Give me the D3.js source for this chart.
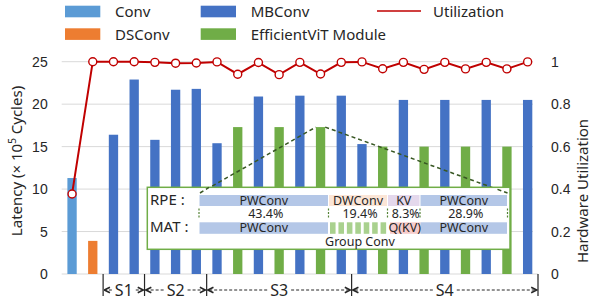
<!DOCTYPE html>
<html>
<head>
<meta charset="utf-8">
<script src="https://cdn.jsdelivr.net/npm/d3@7"></script>
<style>
  body { margin: 0; background: #fff; }
  svg { font-family: "Noto Sans", "Open Sans", sans-serif; }
  text { fill: #262626; }
</style>
</head>
<body>
<div id="chart"></div>
<script>
// block types, in network order
const categories = ['Conv', 'DSConv', 'MBConv', 'EfficientViT Module'];
const blocks = ['Conv', 'DSConv', 'MBConv', 'MBConv', 'MBConv', 'MBConv', 'MBConv', 'MBConv',
  'EfficientViT Module', 'MBConv', 'EfficientViT Module', 'MBConv', 'EfficientViT Module', 'MBConv',
  'MBConv', 'EfficientViT Module', 'MBConv', 'EfficientViT Module', 'MBConv', 'EfficientViT Module',
  'MBConv', 'EfficientViT Module', 'MBConv'];
// latency in 1e5 cycles
const latency = [11.3, 3.9, 16.4, 22.9, 15.8, 21.7, 21.8, 15.4, 17.3, 20.9, 17.3, 21.0, 17.3, 21.0,
  15.3, 15.0, 20.5, 15.0, 20.5, 15.0, 20.5, 15.0, 20.5];
const utilization = [0.377, 1.0, 1.0, 1.0, 0.997, 0.993, 0.994, 0.999, 0.941, 0.996, 0.939, 0.997,
  0.942, 0.997, 0.999, 0.967, 0.997, 0.964, 0.997, 0.966, 0.997, 0.966, 0.999];
const leftTicks = [0, 5, 10, 15, 20, 25];
const rightTicks = [0, 0.2, 0.4, 0.6, 0.8, 1];
// stages as block index ranges [start, end)
const stages = [
  {name: 'S1', start: 2, end: 4},
  {name: 'S2', start: 4, end: 7},
  {name: 'S3', start: 7, end: 14},
  {name: 'S4', start: 14, end: 23}
];
const zoomBlock = 12; // the EfficientViT module that is broken down in the inset
// inset breakdown (share of latency, %)
const shareBreaks = [0, 43.4, 62.8, 71.1, 100];
const rpeParts = ['PWConv', 'DWConv', 'KV', 'PWConv'];
const matParts = ['PWConv', 'Group Conv', 'Q(KV)', 'PWConv'];
const shareLabels = ['43.4%', '19.4%', '8.3%', '28.9%'];
const groupConvSlices = 7;

const colors = {
  'Conv': '#5B9BD5', 'DSConv': '#ED7D31', 'MBConv': '#4472C4', 'EfficientViT Module': '#70AD47'
};
const partColors = {'PWConv': '#B4C7E7', 'DWConv': '#FBE5D6', 'KV': '#E4D8EC', 'Q(KV)': '#F6CBCB', 'Group Conv': '#A9D18E'};
const lineColor = '#C00000';

const width = 592, height = 300;
const plot = {left: 61.7, right: 538, top: 61.7, bottom: 274};

const svg = d3.select('#chart').append('svg')
  .attr('width', width).attr('height', height);

const x = d3.scaleBand()
  .domain(d3.range(blocks.length))
  .range([plot.left, plot.right])
  .paddingInner(0.55)
  .paddingOuter(0.275);
const y = d3.scaleLinear().domain([0, 25]).range([plot.bottom, plot.top]);
const yR = d3.scaleLinear().domain([0, 1]).range([plot.bottom, plot.top]);

// gridlines
svg.append('g').selectAll('line')
  .data(leftTicks.filter(d => d > 0))
  .enter().append('line')
  .attr('x1', plot.left).attr('x2', 533)
  .attr('y1', d => y(d)).attr('y2', d => y(d))
  .attr('stroke', '#D9D9D9').attr('stroke-width', 1);
svg.append('line')
  .attr('x1', plot.left).attr('x2', plot.right)
  .attr('y1', y(0)).attr('y2', y(0))
  .attr('stroke', '#D9D9D9').attr('stroke-width', 1);

// left axis
const leftAxis = svg.append('g')
  .attr('transform', `translate(${plot.left - 14},0)`)
  .call(d3.axisLeft(y).tickValues(leftTicks).tickSize(0).tickPadding(0));
leftAxis.select('.domain').remove();
leftAxis.selectAll('text').style('font-size', '14px').attr('fill', '#262626').style('font-family', 'inherit');

const rightAxis = svg.append('g')
  .attr('transform', `translate(551,0)`)
  .call(d3.axisRight(yR).tickValues(rightTicks).tickSize(0).tickPadding(0).tickFormat(d3.format('~g')));
rightAxis.select('.domain').remove();
rightAxis.selectAll('text').style('font-size', '14px').attr('fill', '#262626').style('font-family', 'inherit');

// axis titles
const lt = svg.append('text')
  .attr('transform', 'translate(22,161) rotate(-90)')
  .attr('text-anchor', 'middle')
  .style('font-size', '15px');
lt.append('tspan').text('Latency (× 10');
lt.append('tspan').text('5').attr('dy', -6).style('font-size', '10px');
lt.append('tspan').text(' Cycles)').attr('dy', 6);

svg.append('text')
  .attr('transform', 'translate(588,191) rotate(-90)')
  .attr('text-anchor', 'middle')
  .style('font-size', '15px')
  .text('Hardware Utilization');

// bars
svg.append('g').selectAll('rect')
  .data(latency)
  .enter().append('rect')
  .attr('x', (d, i) => x(i))
  .attr('y', d => y(d))
  .attr('width', x.bandwidth())
  .attr('height', d => y(0) - y(d))
  .attr('fill', (d, i) => colors[blocks[i]]);

// inset
const box = {x: 147.3, y: 187.3, w: 362.7, h: 62};
const xs = d3.scaleLinear().domain(shareBreaks).range([199, 328.5, 387.5, 420, 507.5]);

// dashed zoom connectors from the chosen module to the inset
const zx0 = x(zoomBlock), zx1 = x(zoomBlock) + x.bandwidth(), zy = y(latency[zoomBlock]);
svg.append('path')
  .attr('d', `M${xs(0) + 1},193 L${zx0},${zy} M${zx1},${zy} L${xs(100)},193`)
  .attr('fill', 'none').attr('stroke', '#385723')
  .attr('stroke-width', 1.5).attr('stroke-dasharray', '4,3');

const inset = svg.append('g');
inset.append('rect')
  .attr('x', box.x).attr('y', box.y).attr('width', box.w).attr('height', box.h)
  .attr('fill', '#fff').attr('stroke', '#70AD47').attr('stroke-width', 1.5);

// connector ends inside the box's top strip
inset.append('path')
  .attr('d', `M${xs(0) + 1},193 L${xs(0) + 10},${193 - 10 * (193 - zy) / (zx0 - xs(0))}
              M${xs(100) - 10},${193 - 10 * (193 - zy) / (xs(100) - zx1)} L${xs(100)},193`)
  .attr('fill', 'none').attr('stroke', '#385723')
  .attr('stroke-width', 1.5).attr('stroke-dasharray', '4,3');

inset.append('text').attr('x', 150).attr('y', 205).style('font-size', '15px').text('RPE :');
inset.append('text').attr('x', 150).attr('y', 232).style('font-size', '15px').text('MAT :');

const segs = d3.range(rpeParts.length).map(i => ({
  rpe: rpeParts[i], mat: matParts[i], label: shareLabels[i],
  x0: xs(shareBreaks[i]), x1: xs(shareBreaks[i + 1])
}));

// RPE row
inset.selectAll('.rpe').data(segs).enter().append('rect')
  .attr('class', 'rpe')
  .attr('x', d => d.x0 + 0.5).attr('y', 195)
  .attr('width', d => d.x1 - d.x0 - 1).attr('height', 11)
  .attr('fill', d => partColors[d.rpe]);
inset.selectAll('.rpe-t').data(segs).enter().append('text')
  .attr('x', d => (d.x0 + d.x1) / 2).attr('y', 204.8)
  .attr('text-anchor', 'middle').style('font-size', '12.5px')
  .text(d => d.rpe);

// share row
inset.selectAll('.sh-t').data(segs).enter().append('text')
  .attr('x', d => (d.x0 + d.x1) / 2 + 2).attr('y', 218)
  .attr('text-anchor', 'middle').style('font-size', '12.5px')
  .text(d => d.label);
inset.selectAll('.mark').data(shareBreaks).enter().append('line')
  .attr('x1', d => xs(d)).attr('x2', d => xs(d))
  .attr('y1', 208.5).attr('y2', 217.5)
  .attr('stroke', '#548235').attr('stroke-width', 1.2).attr('stroke-dasharray', '2,1.5');

// MAT row
const matSegs = segs.filter(d => d.mat !== 'Group Conv');
inset.selectAll('.mat').data(matSegs).enter().append('rect')
  .attr('class', 'mat')
  .attr('x', d => d.x0 + (d.mat === 'Q(KV)' ? 2.5 : 0.5)).attr('y', 222.3)
  .attr('width', d => d.x1 - d.x0 - (d.mat === 'Q(KV)' ? 2 : 1)).attr('height', 11.5)
  .attr('fill', d => partColors[d.mat]);
inset.selectAll('.mat-t').data(matSegs).enter().append('text')
  .attr('x', d => (d.x0 + d.x1) / 2 + (d.mat === 'Q(KV)' ? 1 : 0)).attr('y', 232.3)
  .attr('text-anchor', 'middle').style('font-size', '12.5px')
  .text(d => d.mat);

const gc = segs.find(d => d.mat === 'Group Conv');
const gcStep = (gc.x1 - gc.x0) / groupConvSlices;
inset.selectAll('.gc').data(d3.range(groupConvSlices)).enter().append('rect')
  .attr('x', i => gc.x0 + 1.5 + i * gcStep).attr('y', 222.3)
  .attr('width', gcStep * 0.66).attr('height', 11.5)
  .attr('fill', partColors['Group Conv']);
inset.append('text')
  .attr('x', (gc.x0 + gc.x1) / 2 + 2).attr('y', 245.5)
  .attr('text-anchor', 'middle').style('font-size', '12.5px')
  .text('Group Conv');

// utilization line
const cx = i => x(i) + x.bandwidth() / 2;
svg.append('path')
  .datum(utilization)
  .attr('d', d3.line().x((d, i) => cx(i)).y(d => yR(d)))
  .attr('fill', 'none').attr('stroke', lineColor).attr('stroke-width', 2);
svg.append('g').selectAll('circle')
  .data(utilization)
  .enter().append('circle')
  .attr('cx', (d, i) => cx(i)).attr('cy', d => yR(d))
  .attr('r', 4).attr('fill', '#fff')
  .attr('stroke', lineColor).attr('stroke-width', 1.4);

// stage annotations
svg.append('defs').append('marker')
  .attr('id', 'arr')
  .attr('viewBox', '0 0 10 10').attr('refX', 9).attr('refY', 5)
  .attr('markerWidth', 8).attr('markerHeight', 8).attr('markerUnits', 'userSpaceOnUse')
  .attr('orient', 'auto')
  .append('path')
  .attr('d', 'M2,1.5 L9,5 L2,8.5')
  .attr('fill', 'none').attr('stroke', '#262626').attr('stroke-width', 2);

const sepX = i => plot.left + x.step() * i;
const bounds = [stages[0].start].concat(stages.map(s => s.end));
svg.append('g').selectAll('line')
  .data(bounds)
  .enter().append('line')
  .attr('x1', d => sepX(d)).attr('x2', d => sepX(d))
  .attr('y1', 274).attr('y2', 296)
  .attr('stroke', '#262626').attr('stroke-width', 1.2);

stages.forEach(s => {
  const a = sepX(s.start), b = sepX(s.end), mid = (a + b) / 2;
  const t = svg.append('text')
    .attr('x', mid).attr('y', 296)
    .attr('text-anchor', 'middle').style('font-size', '16px')
    .text(s.name);
  const half = t.node().getComputedTextLength() / 2 + 3;
  [[mid - half, a + 1.2], [mid + half, b - 1.2]].forEach(([from, to]) => {
    svg.append('line')
      .attr('x1', from).attr('x2', to).attr('y1', 290).attr('y2', 290)
      .attr('stroke', '#262626').attr('stroke-width', 1).attr('stroke-dasharray', '3,2')
      .attr('marker-end', 'url(#arr)');
  });
});

// legend
const legendPos = [
  {name: 'Conv', x: 65, y: 5.7}, {name: 'MBConv', x: 200.7, y: 5.7},
  {name: 'DSConv', x: 65, y: 28.3}, {name: 'EfficientViT Module', x: 200.7, y: 28.3}
];
const leg = svg.append('g');
legendPos.forEach(p => {
  leg.append('rect').attr('x', p.x).attr('y', p.y).attr('width', 35.3).attr('height', 11.6)
    .attr('fill', colors[p.name]);
  leg.append('text').attr('x', p.x + 50).attr('y', p.y + 11.5)
    .style('font-size', '15px').text(p.name);
});
leg.append('line').attr('x1', 377).attr('x2', 421).attr('y1', 11).attr('y2', 11)
  .attr('stroke', lineColor).attr('stroke-width', 1.5);
leg.append('text').attr('x', 433).attr('y', 17.2).style('font-size', '15px').text('Utilization');
</script>
</body>
</html>
